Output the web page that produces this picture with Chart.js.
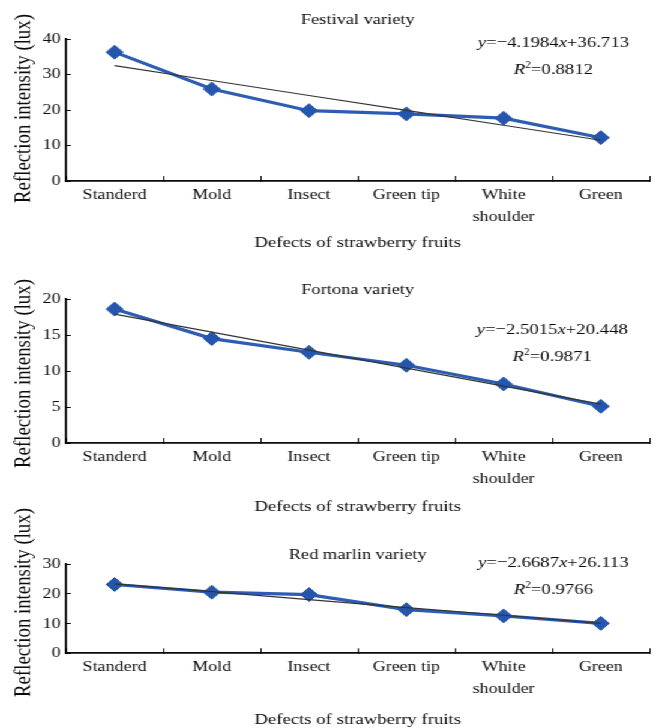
<!DOCTYPE html>
<html><head><meta charset="utf-8">
<script src="https://cdn.jsdelivr.net/npm/chart.js@4"></script>
<style>
html,body{margin:0;padding:0;background:#fff;overflow:hidden;width:659px;height:728px}
#wrap{position:absolute;left:0;top:0;width:549px;height:728px;transform:scaleX(1.20036);transform-origin:0 0}
#wrap canvas{position:absolute;left:0;top:0}
</style></head><body>
<div id="wrap">
<canvas id="c1" width="549" height="728"></canvas>
<canvas id="c2" width="549" height="728"></canvas>
<canvas id="c3" width="549" height="728"></canvas>
</div>
<script>
// ---- data ----
const categories = ['Standerd', 'Mold', 'Insect', 'Green tip', ['White', 'shoulder'], 'Green'];

const festivalValues = [36.3, 25.9, 19.8, 18.9, 17.7, 12.2];
const festivalTrend  = [32.5, 28.3, 24.1, 19.9, 15.7, 11.5];
const festivalTicks  = [0, 10, 20, 30, 40];

const fortonaValues = [18.6, 14.5, 12.6, 10.8, 8.2, 5.1];
const fortonaTrend  = [17.9, 15.4, 12.9, 10.4, 7.9, 5.4];
const fortonaTicks  = [0, 5, 10, 15, 20];

const redMarlinValues = [23.2, 20.6, 19.8, 14.7, 12.6, 10.1];
const redMarlinTrend  = [23.4, 20.8, 18.1, 15.4, 12.8, 10.1];
const redMarlinTicks  = [0, 10, 20, 30];

const titles = ['Festival variety', 'Fortona variety', 'Red marlin variety'];
const equations = [
  ['\u22124.1984', '+36.713', '0.8812'],
  ['\u22122.5015', '+20.448', '0.9871'],
  ['\u22122.6687', '+26.113', '0.9766']
];
const xTitle = 'Defects of strawberry fruits';
const yTitle = 'Reflection intensity (lux)';

// ---- drawing ----
const FAM = '"Liberation Serif", "Times New Roman", serif';
const INK = '#0a0a0a';
const BLUE = '#2d5db2';

function drawRuns(ctx, runs, cx, y) {
  let total = 0;
  runs.forEach(r => { ctx.font = r.font; r.w = ctx.measureText(r.t).width; total += r.w; });
  let x = cx - total / 2;
  runs.forEach(r => {
    ctx.font = r.font;
    ctx.textAlign = 'left';
    ctx.textBaseline = 'middle';
    ctx.fillText(r.t, x, y + (r.dy || 0));
    x += r.w;
  });
}

const decoPlugin = {
  id: 'deco',
  afterDraw(chart, args, o) {
    const ctx = chart.ctx;
    const ca = chart.chartArea;
    const cx = (ca.left + ca.right) / 2;
    ctx.save();
    ctx.fillStyle = INK;
    ctx.font = '15.3px ' + FAM;
    ctx.textAlign = 'center';
    ctx.textBaseline = 'middle';
    ctx.fillText(o.title, cx, o.titleY);
    ctx.font = '15.6px ' + FAM;
    ctx.fillText(xTitle, cx, o.xTitleY);
    const f = '15.6px ' + FAM, fi = 'italic 15.6px ' + FAM, fs = '9.5px ' + FAM;
    drawRuns(ctx, [
      {t: 'y', font: fi}, {t: '=' + o.eq[0], font: f},
      {t: 'x', font: fi}, {t: o.eq[1], font: f}
    ], o.eqX, o.eqY1);
    drawRuns(ctx, [
      {t: 'R', font: fi}, {t: '2', font: fs, dy: -5}, {t: '=' + o.eq[2], font: f}
    ], o.eqX, o.eqY2);
    ctx.translate(o.yTitleX, o.yTitleY);
    ctx.rotate(-Math.PI / 2);
    ctx.font = '18.8px ' + FAM;
    ctx.textAlign = 'center';
    ctx.textBaseline = 'middle';
    ctx.fillText(yTitle, 0, 0);
    ctx.restore();
  }
};

function makeChart(id, values, trend, ticks, pad, xHeight, deco) {
  new Chart(document.getElementById(id), {
    type: 'line',
    data: {
      labels: categories,
      datasets: [
        {data: trend, borderColor: '#333333', borderWidth: 1.1, pointRadius: 0, tension: 0, fill: false},
        {data: values, borderColor: BLUE, borderWidth: 3.2, tension: 0, fill: false,
         pointStyle: 'rectRot', pointRadius: 7, pointBackgroundColor: '#2556ad',
         pointBorderColor: '#2556ad', pointBorderWidth: 1}
      ]
    },
    options: {
      responsive: false,
      animation: false,
      devicePixelRatio: 1,
      layout: {padding: pad},
      plugins: {legend: {display: false}, tooltip: {enabled: false}, deco: deco},
      scales: {
        x: {
          type: 'category', offset: true,
          grid: {offset: true, drawOnChartArea: false, drawTicks: true, tickLength: -5, color: INK, lineWidth: 1},
          border: {display: true, color: INK, width: 1.8},
          ticks: {font: {family: FAM, size: 15, lineHeight: 1.45}, color: INK, padding: 8, maxRotation: 0, autoSkip: false},
          afterFit: s => { s.height = xHeight; }
        },
        y: {
          min: ticks[0], max: ticks[ticks.length - 1],
          afterBuildTicks: s => { s.ticks = ticks.map(v => ({value: v})); },
          grid: {drawOnChartArea: false, drawTicks: true, tickLength: -4, color: INK, lineWidth: 1},
          border: {display: true, color: INK, width: 1.8},
          ticks: {font: {family: FAM, size: 15}, color: INK, padding: 8.5},
          afterFit: s => { s.width = 55; }
        }
      }
    },
    plugins: [decoPlugin]
  });
}

makeChart('c1', festivalValues, festivalTrend, festivalTicks,
  {top: 39, bottom: 476, left: 0, right: 6.7}, 71,
  {title: titles[0], titleY: 20, xTitleY: 243, eq: equations[0], eqX: 461, eqY1: 43, eqY2: 70, yTitleX: 20, yTitleY: 108.5});
makeChart('c2', fortonaValues, fortonaTrend, fortonaTicks,
  {top: 299, bottom: 211, left: 0, right: 6.7}, 74,
  {title: titles[1], titleY: 290, xTitleY: 507, eq: equations[1], eqX: 460, eqY1: 330, eqY2: 357, yTitleX: 20, yTitleY: 373.5});
makeChart('c3', redMarlinValues, redMarlinTrend, redMarlinTicks,
  {top: 564.3, bottom: 0, left: 0, right: 6.7}, 74.7,
  {title: titles[2], titleY: 555, xTitleY: 720, eq: equations[2], eqX: 461, eqY1: 563, eqY2: 590, yTitleX: 20, yTitleY: 602.5});
</script>
</body></html>
